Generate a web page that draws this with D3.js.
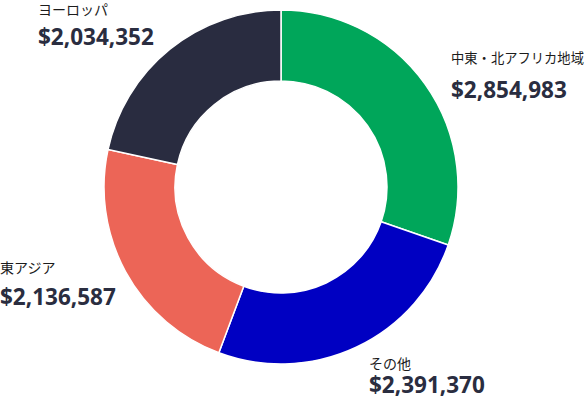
<!DOCTYPE html>
<html>
<head>
<meta charset="utf-8">
<script src="https://cdn.jsdelivr.net/npm/d3@7"></script>
<style>
  html, body { margin: 0; padding: 0; background: #fff; }
  svg { display: block; }
</style>
</head>
<body>
<div id="chart"></div>
<script>
const regions = ["中東・北アフリカ地域", "その他", "東アジア", "ヨーロッパ"];
const values = [2854983, 2391370, 2136587, 2034352];
const colors = ["#00a65a", "#0000c2", "#ec6557", "#292c40"];

const width = 587;
const height = 399;
const center = { x: 281, y: 187 };
const outerRadius = 177;
const innerRadius = 106;

// label layout: left edge, name baseline, gap to value baseline
const labelPos = [
    { x: 451, y: 63, dy: 35 },
    { x: 369, y: 369, dy: 24 },
    { x: 0, y: 273, dy: 32 },
    { x: 38, y: 15, dy: 29.5 }
];

const data = regions.map((name, i) => ({ name, value: values[i], color: colors[i] }));

const svg = d3.select("#chart").append("svg")
    .attr("width", width)
    .attr("height", height);

const pie = d3.pie()
    .sort(null)
    .value(d => d.value);

const arc = d3.arc()
    .innerRadius(innerRadius)
    .outerRadius(outerRadius);

const g = svg.append("g")
    .attr("transform", `translate(${center.x},${center.y})`);

g.selectAll("path")
    .data(pie(data))
    .enter()
    .append("path")
    .attr("d", arc)
    .attr("fill", d => d.data.color)
    .attr("stroke", "#fff")
    .attr("stroke-width", 1.5);

const fmt = d3.format("$,");

const labels = svg.selectAll("g.label")
    .data(data)
    .enter()
    .append("g")
    .attr("class", "label")
    .attr("transform", (d, i) => `translate(${labelPos[i].x},${labelPos[i].y})`);

labels.append("text")
    .attr("x", 0)
    .attr("y", 0)
    .style("font-family", "'Noto Sans CJK JP', sans-serif")
    .style("font-size", "14px")
    .style("fill", "#1c1c1c")
    .text(d => d.name)
    .each(function(d, i) {
        // shrink names that would run off the right edge
        const room = width - labelPos[i].x - 3;
        const len = this.getComputedTextLength();
        if (len > room) {
            d3.select(this).style("font-size", (14 * room / len).toFixed(2) + "px");
        }
    });

labels.append("text")
    .attr("x", 0)
    .attr("y", (d, i) => labelPos[i].dy)
    .style("font-family", "'Open Sans', sans-serif")
    .style("font-weight", "bold")
    .style("font-size", "22.5px")
    .style("fill", "#2a2d40")
    .text(d => fmt(d.value));
</script>
</body>
</html>
